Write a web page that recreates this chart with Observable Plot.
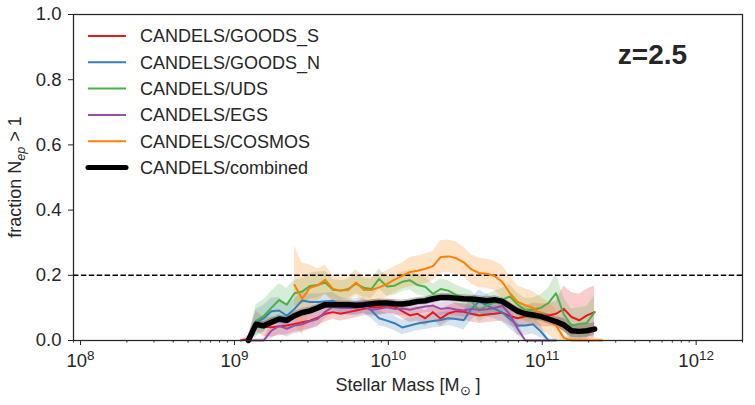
<!DOCTYPE html>
<html><head><meta charset="utf-8">
<script src="https://cdn.jsdelivr.net/npm/d3@7"></script>
<script src="https://cdn.jsdelivr.net/npm/@observablehq/plot@0.6"></script>
<style>body{margin:0;background:#fff;} svg{display:block;}</style>
</head><body><div id="chart"></div>
<script>
// log10 stellar mass bins
const logMass = [
  9.04, 9.09, 9.14, 9.19, 9.24, 9.29, 9.34, 9.39,
  9.44, 9.49, 9.54, 9.59, 9.64, 9.69, 9.74, 9.79,
  9.84, 9.89, 9.94, 9.99, 10.04, 10.09, 10.14, 10.19,
  10.24, 10.29, 10.34, 10.39, 10.44, 10.49, 10.54, 10.59,
  10.64, 10.69, 10.74, 10.79, 10.84, 10.89, 10.94, 10.99,
  11.04, 11.09, 11.14, 11.19, 11.24, 11.29, 11.34, 11.39
];
const seriesNames = ["CANDELS/GOODS_S","CANDELS/GOODS_N","CANDELS/UDS","CANDELS/EGS","CANDELS/COSMOS","CANDELS/combined"];
const seriesColors = ["#e41a1c","#377eb8","#4daf4a","#984ea3","#ff7f00","#000000"];

const goodsS = [
  0, 0.005, 0.06, 0.042, 0.041, 0.043, 0.046, 0.051,
  0.056, 0.061, 0.07, 0.082, 0.087, 0.082, 0.087, 0.092,
  0.097, 0.102, 0.102, 0.104, 0.104, 0.09, 0.077, 0.082,
  0.068, 0.087, 0.067, 0.083, 0.09, 0.088, 0.082, 0.077,
  0.08, 0.082, 0.085, 0.075, 0.068, 0.074, 0.083, 0.077,
  0.077, 0.082, 0.097, 0.072, 0.062, 0.077, 0.087, null
];
const goodsSErr = [
  0, 0.01, 0.03, 0.03, 0.03, 0.028, 0.028, 0.025,
  0.025, 0.025, 0.025, 0.025, 0.022, 0.022, 0.022, 0.022,
  0.022, 0.022, 0.022, 0.022, 0.022, 0.022, 0.022, 0.022,
  0.024, 0.024, 0.024, 0.024, 0.024, 0.025, 0.025, 0.025,
  0.025, 0.025, 0.025, 0.03, 0.03, 0.03, 0.032, 0.035,
  0.035, 0.04, 0.07, 0.075, 0.08, 0.08, 0.08, null
];
const goodsN = [
  null, 0, 0.056, 0.068, 0.09, 0.092, 0.076, 0.097,
  0.123, 0.118, 0.118, 0.12, 0.122, 0.108, 0.102, 0.102,
  0.106, 0.092, 0.068, 0.061, 0.053, 0.04, 0.046, 0.052,
  0.056, 0.06, 0.063, 0.068, 0.066, 0.062, 0.097, 0.12,
  0.107, 0.097, 0.086, 0.066, 0.046, 0.046, 0.05, 0.028,
  0, 0, null, null, null, null, null, null
];
const goodsNErr = [
  null, 0.01, 0.04, 0.04, 0.04, 0.04, 0.035, 0.03,
  0.025, 0.025, 0.025, 0.025, 0.025, 0.025, 0.025, 0.025,
  0.025, 0.025, 0.022, 0.022, 0.022, 0.022, 0.022, 0.022,
  0.022, 0.022, 0.022, 0.022, 0.025, 0.03, 0.035, 0.035,
  0.035, 0.03, 0.03, 0.03, 0.03, 0.03, 0.03, 0.02,
  0.005, 0.005, null, null, null, null, null, null
];
const uds = [
  null, 0, 0.06, 0.075, 0.1, 0.124, 0.11, 0.145,
  0.15, 0.167, 0.17, 0.178, 0.156, 0.153, 0.158, 0.174,
  0.162, 0.158, 0.189, 0.166, 0.168, 0.18, 0.185, 0.17,
  0.165, 0.143, 0.158, 0.153, 0.14, 0.13, 0.12, 0.092,
  0.107, 0.116, 0.125, 0.135, 0.11, 0.094, 0.095, 0.1,
  0.115, 0.145, 0.08, 0.046, 0.051, 0.054, 0.087, null
];
const udsErr = [
  null, 0.01, 0.05, 0.05, 0.05, 0.05, 0.05, 0.04,
  0.04, 0.04, 0.04, 0.035, 0.03, 0.03, 0.03, 0.03,
  0.03, 0.03, 0.03, 0.03, 0.03, 0.03, 0.03, 0.03,
  0.03, 0.03, 0.03, 0.03, 0.03, 0.03, 0.032, 0.035,
  0.035, 0.035, 0.035, 0.035, 0.035, 0.035, 0.035, 0.04,
  0.045, 0.06, 0.05, 0.05, 0.05, 0.05, 0.05, null
];
const egs = [
  null, 0, 0, 0, 0.03, 0.045, 0.036, 0.046,
  0.05, 0.059, 0.066, 0.088, 0.103, 0.1, 0.1, 0.1,
  0.104, 0.094, 0.097, 0.102, 0.097, 0.098, 0.094, 0.1,
  0.104, 0.107, 0.097, 0.1, 0.095, 0.092, 0.097, 0.094,
  0.096, 0.1, 0.106, 0.08, 0.036, 0, 0, 0,
  0, null, null, null, null, null, null, null
];
const egsErr = [
  null, 0, 0.005, 0.005, 0.025, 0.025, 0.025, 0.025,
  0.025, 0.025, 0.025, 0.02, 0.02, 0.02, 0.02, 0.02,
  0.02, 0.02, 0.02, 0.02, 0.02, 0.02, 0.02, 0.02,
  0.02, 0.02, 0.02, 0.02, 0.02, 0.02, 0.02, 0.02,
  0.02, 0.02, 0.022, 0.025, 0.02, 0.003, 0.003, 0.003,
  0.003, null, null, null, null, null, null, null
];
const cosmos = [
  null, null, null, null, null, null, null, 0.17,
  0.128, 0.162, 0.169, 0.186, 0.158, 0.153, 0.155, 0.178,
  0.156, 0.155, 0.163, 0.173, 0.187, 0.198, 0.21, 0.214,
  0.22, 0.228, 0.256, 0.258, 0.253, 0.24, 0.218, 0.207,
  0.205, 0.198, 0.18, 0.145, 0.118, 0.108, 0.1, 0.083,
  0.068, 0.045, 0.008, 0, 0, 0, 0, 0
];
const cosmosErr = [
  null, null, null, null, null, null, null, 0.12,
  0.11, 0.07, 0.05, 0.045, 0.04, 0.04, 0.04, 0.04,
  0.04, 0.04, 0.04, 0.04, 0.04, 0.04, 0.045, 0.045,
  0.045, 0.045, 0.05, 0.05, 0.05, 0.045, 0.045, 0.045,
  0.045, 0.045, 0.05, 0.05, 0.05, 0.05, 0.05, 0.05,
  0.05, 0.05, 0.01, 0.006, 0.006, 0.006, 0.006, 0.006
];
const combined = [
  null, 0, 0.05, 0.045, 0.056, 0.066, 0.062, 0.076,
  0.086, 0.091, 0.1, 0.11, 0.11, 0.11, 0.11, 0.108,
  0.11, 0.113, 0.115, 0.115, 0.113, 0.112, 0.115, 0.12,
  0.122, 0.128, 0.132, 0.132, 0.13, 0.128, 0.127, 0.125,
  0.122, 0.125, 0.12, 0.105, 0.09, 0.082, 0.078, 0.074,
  0.066, 0.058, 0.048, 0.03, 0.028, 0.03, 0.035, null
];
const combinedErr = [
  null, 0.005, 0.012, 0.012, 0.012, 0.012, 0.012, 0.012,
  0.012, 0.012, 0.012, 0.012, 0.012, 0.012, 0.012, 0.012,
  0.012, 0.012, 0.012, 0.012, 0.012, 0.012, 0.012, 0.012,
  0.012, 0.012, 0.012, 0.012, 0.012, 0.012, 0.012, 0.012,
  0.012, 0.012, 0.012, 0.012, 0.012, 0.012, 0.013, 0.014,
  0.015, 0.015, 0.02, 0.02, 0.02, 0.02, 0.02, null
];
const yTicks = [0, 0.2, 0.4, 0.6, 0.8, 1.0];
const xMajorExps = [8, 9, 10, 11, 12];
const zLabel = "z=2.5";
const threshold = 0.2;

const seriesValues = [goodsS, goodsN, uds, egs, cosmos, combined];
const seriesErrs = [goodsSErr, goodsNErr, udsErr, egsErr, cosmosErr, combinedErr];

const perSeries = seriesNames.map((name, s) => {
  const rows = [];
  logMass.forEach((lm, i) => {
    const v = seriesValues[s][i];
    if (v == null) return;
    const e = seriesErrs[s][i] ?? 0;
    rows.push({series: name, mass: Math.pow(10, lm), f: v, lo: Math.max(0, v - e), hi: v + e});
  });
  return rows;
});

const xMajor = xMajorExps.map(e => Math.pow(10, e));
const xMinor = [];
for (let e = 7; e <= 12; e++) for (let m = 2; m <= 9; m++) {
  const v = m * Math.pow(10, e);
  if (v >= 9e7 && v <= 2e12) xMinor.push(v);
}

const FONT = "'Liberation Sans', Arial, sans-serif";
const TXT = "#262626";

const marks = [];
perSeries.forEach((rows, s) => {
  marks.push(Plot.areaY(rows, {x: "mass", y1: "lo", y2: "hi", fill: seriesColors[s], fillOpacity: 0.22, curve: "linear"}));
});
marks.push(Plot.ruleY([threshold], {stroke: "black", strokeWidth: 1.5, strokeDasharray: "5.5,2.4"}));
perSeries.forEach((rows, s) => {
  marks.push(Plot.line(rows, {x: "mass", y: "f", stroke: seriesColors[s], strokeWidth: s === 5 ? 5.5 : 2,
    strokeLinejoin: "round", strokeLinecap: "round"}));
});

const chart = Plot.plot({
  width: 755, height: 405,
  marginLeft: 73, marginRight: 13, marginTop: 14, marginBottom: 65,
  style: {fontFamily: FONT, fontSize: "18px", color: TXT, background: "white", overflow: "visible"},
  x: {type: "log", domain: [9e7, 2e12]},
  y: {domain: [0, 1]},
  marks: [
    ...marks,
    Plot.axisY({ticks: yTicks, tickFormat: d => d.toFixed(1), tickSize: 5, tickPadding: 7, fontSize: 18.5, label: null, stroke: TXT, fill: TXT}),
    Plot.axisX({ticks: xMinor, tickFormat: () => "", tickSize: 2.5, label: null, stroke: TXT}),
    Plot.axisX({ticks: xMajor, tickFormat: d => "E" + Math.round(Math.log10(d)), tickSize: 5, tickPadding: 8, fontSize: 18.5, label: null, stroke: TXT, fill: TXT}),
    Plot.frame({stroke: TXT, strokeWidth: 1.25}),
    Plot.text([zLabel], {frameAnchor: "top-right", dx: -90, dy: 41, text: d => d, fontSize: 28, fontWeight: "bold", fill: TXT, textAnchor: "middle", lineAnchor: "middle"})
  ]
});
document.getElementById("chart").appendChild(chart);

const svg = d3.select(chart);
// superscript exponents on x tick labels
svg.selectAll("text").each(function() {
  const t = d3.select(this);
  const s = t.text();
  if (/^E\d+$/.test(s)) {
    const exp = s.slice(1);
    t.text(null);
    t.append("tspan").text("10");
    t.append("tspan").attr("dy", "-0.5em").attr("font-size", "13.5px").text(exp);
  }
});

// y label
const yl = svg.append("text")
  .attr("transform", "translate(21,177) rotate(-90)")
  .attr("text-anchor", "middle")
  .attr("font-family", FONT).attr("font-size", 18).attr("fill", TXT);
yl.append("tspan").text("fraction N");
yl.append("tspan").attr("dy", "0.3em").attr("font-size", "12.5px").attr("font-style", "italic").text("ep");
yl.append("tspan").attr("dy", "-0.22em").text(" > 1");

// x label
const xl = svg.append("text")
  .attr("x", 408).attr("y", 391)
  .attr("text-anchor", "middle")
  .attr("font-family", FONT).attr("font-size", 18).attr("fill", TXT);
xl.append("tspan").text("Stellar Mass [M");
xl.append("tspan").attr("dy", "0.3em").attr("font-size", "12.5px").text("\u2299");
xl.append("tspan").attr("dy", "-0.22em").text(" ]");

// legend
const lg = svg.append("g").attr("font-family", FONT).attr("font-size", 18).attr("fill", TXT).attr("text-anchor", "start");
seriesNames.forEach((name, i) => {
  const y = 36 + 26.3 * i;
  lg.append("line").attr("x1", 88).attr("x2", 126).attr("y1", y).attr("y2", y)
    .attr("stroke", seriesColors[i]).attr("stroke-width", i === 5 ? 5 : 2).attr("stroke-linecap", i === 5 ? "round" : "butt");
  lg.append("text").attr("x", 140).attr("y", y).attr("dy", "0.35em").attr("text-anchor", "start").text(name);
});
</script>
</body></html>
